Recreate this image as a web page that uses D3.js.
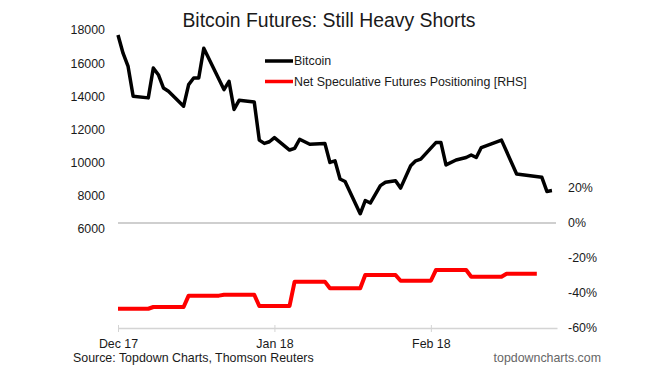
<!DOCTYPE html>
<html>
<head>
<meta charset="utf-8">
<script src="https://cdn.jsdelivr.net/npm/d3@7"></script>
<style>
  body { margin: 0; background: #fff; }
  svg { display: block; font-family: "Liberation Sans", Arial, sans-serif; }
  .axis text { font-size: 12.4px; fill: #1a1a1a; }
</style>
</head>
<body>
<div id="chart"></div>
<script>
// Bitcoin price (left axis)
const btcDates = [
  '2017-12-17', '2017-12-18', '2017-12-19', '2017-12-20', '2017-12-23', '2017-12-24',
  '2017-12-25', '2017-12-26', '2017-12-27', '2017-12-30', '2017-12-31', '2018-01-01',
  '2018-01-02', '2018-01-03', '2018-01-07', '2018-01-08', '2018-01-09', '2018-01-10',
  '2018-01-13', '2018-01-14', '2018-01-15', '2018-01-16', '2018-01-17', '2018-01-20',
  '2018-01-21', '2018-01-22', '2018-01-24', '2018-01-27', '2018-01-28', '2018-01-29',
  '2018-01-30', '2018-01-31', '2018-02-03', '2018-02-04', '2018-02-05', '2018-02-07',
  '2018-02-08', '2018-02-10', '2018-02-11', '2018-02-13', '2018-02-14', '2018-02-15',
  '2018-02-18', '2018-02-19', '2018-02-20', '2018-02-22', '2018-02-24', '2018-02-25',
  '2018-02-26', '2018-02-27', '2018-03-03', '2018-03-06', '2018-03-11', '2018-03-12',
  '2018-03-13'
];
const btcValues = [
  17700, 16600, 15800, 14000, 13900, 15700,
  15300, 14500, 14300, 13400, 14700, 15100,
  15100, 16900, 14400, 14900, 13200, 13750,
  13650, 11350, 11150, 11250, 11500, 10750,
  10850, 11400, 11100, 11150, 10000, 10100,
  9000, 8850, 6900, 7700, 7550, 8600,
  8800, 8900, 8450, 9800, 10100, 10200,
  11200, 11200, 9850, 10150, 10300, 10450,
  10300, 10900, 11350, 9300, 9100, 8250,
  8300
];

// Net speculative futures positioning, weekly (right axis, %)
const netDates = [
  '2017-12-17', '2017-12-24', '2017-12-31', '2018-01-07', '2018-01-14', '2018-01-21',
  '2018-01-28', '2018-02-04', '2018-02-11', '2018-02-18', '2018-02-25', '2018-03-04'
];
const netValues = [-49, -48, -41.5, -41, -47.4, -33.5, -37.3, -29.7, -33, -26.9, -30.7, -29];
const netEnd = '2018-03-10';

const leftTicks = [6000, 8000, 10000, 12000, 14000, 16000, 18000];
const rightTicks = [-60, -40, -20, 0, 20];
const xTicks = ['2017-12-17', '2018-01-17', '2018-02-17'];

const title = 'Bitcoin Futures: Still Heavy Shorts';
const seriesNames = ['Bitcoin', 'Net Speculative Futures Positioning [RHS]'];
const sourceText = 'Source: Topdown Charts, Thomson Reuters';
const brandText = 'topdowncharts.com';

const parse = d3.timeParse('%Y-%m-%d');
const width = 657;
const height = 382;

function drawChart() {
  const svg = d3.select('#chart').append('svg')
    .attr('width', width)
    .attr('height', height);

  const x = d3.scaleTime()
    .domain([parse('2017-12-17'), parse('2018-03-14')])
    .range([118, 557]);
  const yLeft = d3.scaleLinear().domain([0, 18000]).range([328, 30]);
  const yRight = d3.scaleLinear().domain([-60, 20]).range([328, 188]);

  // title
  svg.append('text')
    .attr('x', 329).attr('y', 27)
    .attr('text-anchor', 'middle')
    .style('font-size', '19.4px')
    .style('fill', '#1a1a1a')
    .text(title);

  // zero line of the right axis
  svg.append('line')
    .attr('x1', 118).attr('x2', 556)
    .attr('y1', yRight(0)).attr('y2', yRight(0))
    .attr('stroke', '#a0a0a0').attr('stroke-width', 1.2);

  // axes
  const left = svg.append('g').attr('class', 'axis')
    .attr('transform', 'translate(108,0)')
    .call(d3.axisLeft(yLeft).tickValues(leftTicks).tickSize(0).tickPadding(3)
      .tickFormat(d3.format('d')));
  left.select('.domain').remove();

  const right = svg.append('g').attr('class', 'axis')
    .attr('transform', 'translate(565,0)')
    .call(d3.axisRight(yRight).tickValues(rightTicks).tickSize(0).tickPadding(3)
      .tickFormat(d => `${d}%`));
  right.select('.domain').remove();

  const bottom = svg.append('g').attr('class', 'axis')
    .attr('transform', 'translate(0,328)')
    .call(d3.axisBottom(x).tickValues(xTicks.map(parse))
      .tickFormat(d3.timeFormat('%b %y')).tickSize(4).tickSizeOuter(0).tickPadding(7));
  bottom.select('.domain').attr('stroke', '#d4d4d4').attr('stroke-width', 1.5);
  bottom.selectAll('.tick line').attr('stroke', '#d4d4d4').attr('y1', -3);

  // net positioning: each weekly value held until the next report
  const netPoints = [];
  netDates.forEach((d, i) => {
    const start = parse(d);
    const end = i < netDates.length - 1 ? d3.timeDay.offset(parse(netDates[i + 1]), -1) : parse(netEnd);
    netPoints.push([start, netValues[i]], [end, netValues[i]]);
  });
  svg.append('path')
    .datum(netPoints)
    .attr('fill', 'none')
    .attr('stroke', '#ff0000')
    .attr('stroke-width', 4)
    .attr('stroke-linejoin', 'round')
    .attr('d', d3.line().x(d => x(d[0])).y(d => yRight(d[1])));

  // bitcoin
  const btc = btcDates.map((d, i) => [parse(d), btcValues[i]]);
  svg.append('path')
    .datum(btc)
    .attr('fill', 'none')
    .attr('stroke', '#000')
    .attr('stroke-width', 3.5)
    .attr('stroke-linejoin', 'round')
    .attr('d', d3.line().x(d => x(d[0])).y(d => yLeft(d[1])));

  // legend
  const colors = ['#000', '#ff0000'];
  const legend = svg.append('g').attr('transform', 'translate(265,61)');
  seriesNames.forEach((name, i) => {
    const row = legend.append('g').attr('transform', `translate(0,${i * 20.5})`);
    row.append('line')
      .attr('x1', 0).attr('x2', 28)
      .attr('stroke', colors[i]).attr('stroke-width', 3.5);
    row.append('text')
      .attr('x', 29).attr('dy', '0.36em')
      .style('font-size', '12.4px')
      .style('fill', '#1a1a1a')
      .text(name);
  });

  // footer
  svg.append('text')
    .attr('x', 73).attr('y', 362)
    .style('font-size', '12.4px')
    .style('fill', '#1a1a1a')
    .text(sourceText);
  svg.append('text')
    .attr('x', 601).attr('y', 362)
    .attr('text-anchor', 'end')
    .style('font-size', '12.4px')
    .style('fill', '#666')
    .text(brandText);
}

drawChart();
</script>
</body>
</html>
